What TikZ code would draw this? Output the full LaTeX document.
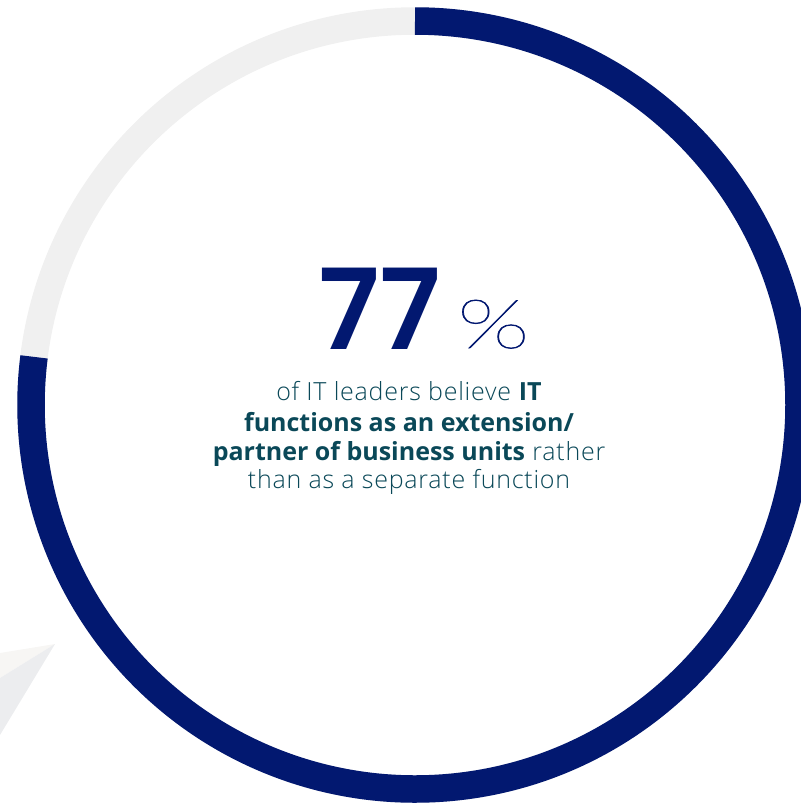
\documentclass[tikz,border=0pt]{standalone}
\usepackage{fontspec}
\setmainfont{Open Sans Light}[LetterSpace=3, BoldFont={Open Sans Bold}, BoldFeatures={LetterSpace=0}]
\newfontfamily\numfont{Poppins SemiBold}
\newfontfamily\pctfont{Lato Hairline}[FakeStretch=1.4, FakeBold=1]
\usepackage{xcolor}
\usepackage{tikz}
\definecolor{ringnavy}{RGB}{2,24,112}
\definecolor{ringgrey}{RGB}{240,240,240}
\definecolor{textteal}{RGB}{10,72,88}
\definecolor{planelight}{RGB}{247,246,244}
\definecolor{planedark}{RGB}{236,237,239}

\begin{document}
\begin{tikzpicture}[x=1pt, y=-1pt,
    line/.style={anchor=base, text=textteal, font=\fontsize{25}{25}\selectfont, inner sep=0pt}]
    \useasboundingbox (0,0) rectangle (801,804);
    \clip (0,0) rectangle (801,804);
    % paper plane corner
    \fill [planelight] (0,653) -- (55,644) -- (0,678) -- cycle;
    \fill [planedark] (0,678) -- (55,644) -- (0,735) -- cycle;
    % ring (y points down, so angles run clockwise)
    \draw [ringgrey, line width=27.5] (415,405) circle [radius=384];
    \draw [ringnavy, line width=27.5] (415,405) ++(-90:384) arc [start angle=-90, end angle=187.2, radius=384];
    \node [anchor=base east, inner sep=0pt, text=ringnavy, font=\numfont\fontsize{112}{112}\selectfont] (num) at (441,349) {77};
    \node [anchor=base west, inner sep=0pt, text=ringnavy, font=\pctfont\fontsize{68}{68}\selectfont] (pct) at (457,348) {\%};
    \node [line] (l1) at (409,400) {of IT leaders believe \textbf{IT}};
    \node [line] (l2) at (409,431.5) {\textbf{functions as an extension/}};
    \node [line] (l3) at (409,460) {\textbf{partner of business units} rather};
    \node [line] (l4) at (409,488.5) {than as a separate function};
\end{tikzpicture}
\end{document}
